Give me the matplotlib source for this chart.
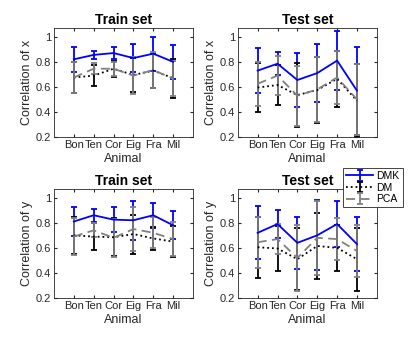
import numpy as np
import matplotlib
matplotlib.use("Agg")
import matplotlib.pyplot as plt

plt.rcParams['font.family'] = ['Liberation Sans', 'DejaVu Sans']

animals = ["Bon", "Ten", "Cor", "Eig", "Fra", "Mil"]
methods = ["DMK", "DM", "PCA"]

# means and half-widths of error bars, per panel and method
train_x_mean = {"DMK": [0.82, 0.855, 0.87, 0.83, 0.865, 0.80],
                "DM":  [0.675, 0.69, 0.745, 0.695, 0.73, 0.67],
                "PCA": [0.675, 0.745, 0.745, 0.69, 0.735, 0.665]}
train_x_err = {"DMK": [0.10, 0.03, 0.05, 0.11, 0.135, 0.135],
               "DM":  [0.125, 0.085, 0.065, 0.135, 0.135, 0.155],
               "PCA": [0.125, 0.045, 0.055, 0.15, 0.14, 0.14]}

test_x_mean = {"DMK": [0.73, 0.785, 0.655, 0.71, 0.81, 0.57],
               "DM":  [0.595, 0.615, 0.535, 0.575, 0.665, 0.49],
               "PCA": [0.625, 0.69, 0.53, 0.58, 0.675, 0.50]}
test_x_err = {"DMK": [0.18, 0.09, 0.215, 0.23, 0.235, 0.35],
              "DM":  [0.195, 0.16, 0.255, 0.265, 0.225, 0.29],
              "PCA": [0.175, 0.155, 0.24, 0.26, 0.215, 0.285]}

train_y_mean = {"DMK": [0.81, 0.86, 0.825, 0.82, 0.86, 0.78],
                "DM":  [0.70, 0.69, 0.685, 0.71, 0.675, 0.65],
                "PCA": [0.69, 0.74, 0.68, 0.75, 0.72, 0.67]}
train_y_err = {"DMK": [0.115, 0.05, 0.10, 0.155, 0.10, 0.11],
               "DM":  [0.15, 0.105, 0.15, 0.155, 0.095, 0.125],
               "PCA": [0.15, 0.055, 0.15, 0.175, 0.125, 0.135]}

test_y_mean = {"DMK": [0.72, 0.79, 0.64, 0.70, 0.79, 0.63],
               "DM":  [0.605, 0.595, 0.51, 0.615, 0.60, 0.51],
               "PCA": [0.645, 0.67, 0.52, 0.68, 0.67, 0.575]}
test_y_err = {"DMK": [0.21, 0.11, 0.21, 0.28, 0.185, 0.215],
              "DM":  [0.245, 0.18, 0.245, 0.26, 0.185, 0.25],
              "PCA": [0.205, 0.12, 0.26, 0.295, 0.17, 0.21]}

styles = {"DMK": dict(color=(0, 0, 1), ls="-", lw=1.3),
          "DM":  dict(color="black", ls=":", lw=1.3),
          "PCA": dict(color=(0.5, 0.5, 0.5), ls=(0, (5, 3)), lw=1.3)}

fig = plt.figure(figsize=(4.15, 3.41), dpi=100)
positions = [[0.130, 0.598, 0.335, 0.320],
             [0.573, 0.598, 0.335, 0.320],
             [0.130, 0.126, 0.335, 0.320],
             [0.573, 0.126, 0.335, 0.320]]
panels = [("Train set", "Correlation of x", train_x_mean, train_x_err),
          ("Test set", "Correlation of x", test_x_mean, test_x_err),
          ("Train set", "Correlation of y", train_y_mean, train_y_err),
          ("Test set", "Correlation of y", test_y_mean, test_y_err)]

x = np.arange(1, len(animals) + 1)
handles = []
for pos, (title, ylab, means, errs) in zip(positions, panels):
    ax = fig.add_axes(pos)
    hs = []
    for m in methods:
        st = styles[m]
        h = ax.errorbar(x, means[m], yerr=errs[m], color=st["color"], ls=st["ls"],
                        lw=st["lw"], elinewidth=1.3, capsize=2.5, capthick=1.3)
        h[-1][0].set_linestyle("-")
        hs.append(h)
    handles = hs
    ax.set_xlim(0, 7)
    ax.set_ylim(0.2, 1.07)
    ax.set_xticks(x)
    ax.set_xticklabels(animals)
    ax.set_yticks([0.2, 0.4, 0.6, 0.8, 1.0])
    ax.set_yticklabels(["0.2", "0.4", "0.6", "0.8", "1"])
    ax.tick_params(direction="in", length=2.5, labelsize=8, colors="#262626",
                   top=True, right=True, pad=2)
    for s in ax.spines.values():
        s.set_color("#262626")
        s.set_linewidth(0.6)
    ax.set_title(title, fontsize=10, fontweight="bold", pad=3)
    ax.set_xlabel("Animal", fontsize=9, color="#262626", labelpad=2)
    ax.set_ylabel(ylab, fontsize=9, color="#262626", labelpad=2)

leg = fig.legend(handles, methods, loc="upper left",
                 bbox_to_anchor=(343 / 415, 1 - 168 / 341), fontsize=7.5,
                 handlelength=2.6, borderpad=0.3, labelspacing=0.15,
                 handletextpad=0.3, borderaxespad=0, fancybox=False,
                 framealpha=1, edgecolor="#262626")
leg.get_frame().set_linewidth(0.6)

fig.savefig("out.png", dpi=100)
